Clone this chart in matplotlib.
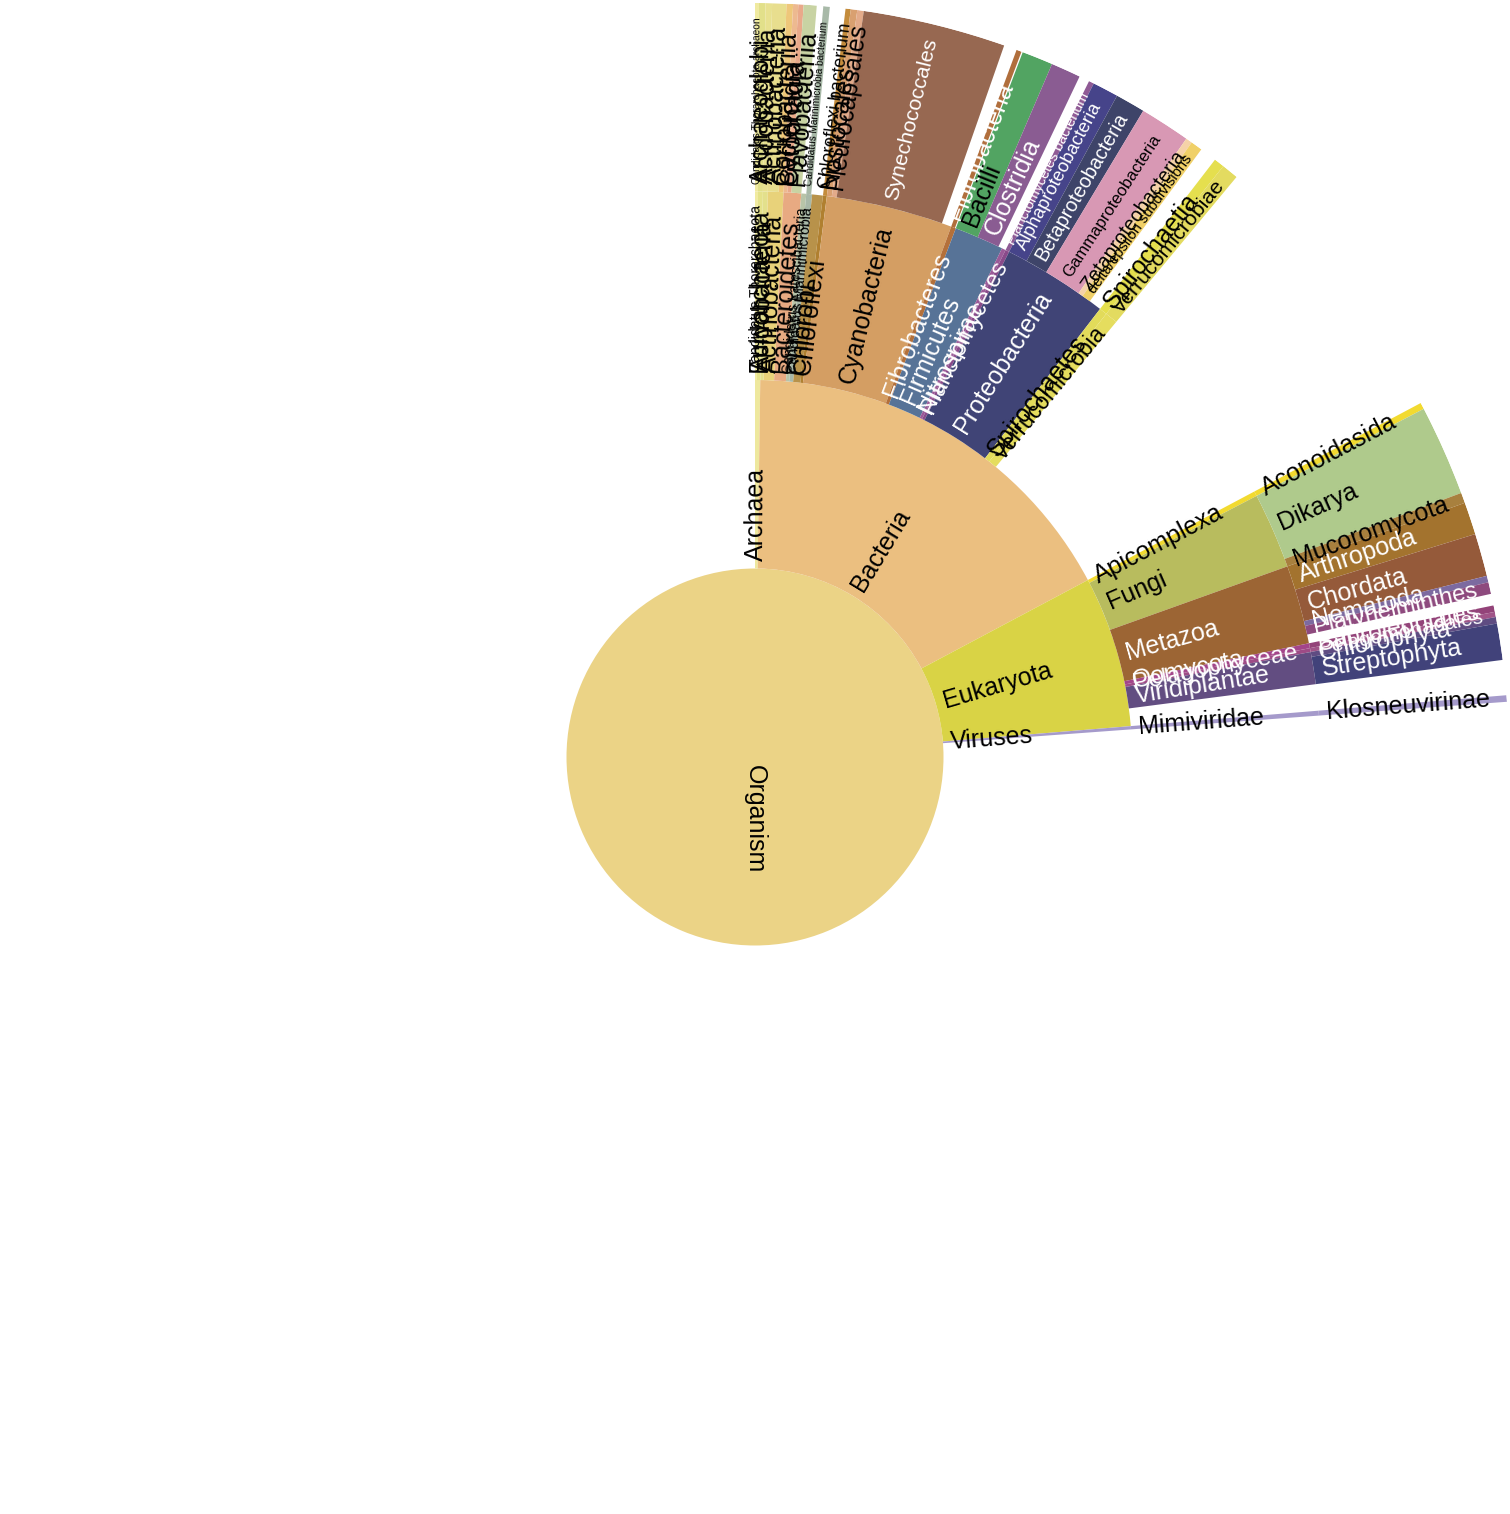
import numpy as np
import matplotlib.pyplot as plt
from matplotlib.font_manager import FontProperties
from matplotlib.textpath import TextPath

plt.rcParams['font.family'] = ['Liberation Sans', 'DejaVu Sans']

# counts, the whole circle (Organism) = 3600
root_name = 'Organism'
root_total = 3600
root_color = '#EBD386'

lvl1_names = ['Archaea', 'Bacteria', 'Eukaryota', 'Viruses']
lvl1_values = [8, 612, 233, 5]
lvl1_colors = ['#EEE89E', '#EBBF80', '#D9D345', '#A59ACB']

lvl2_names = [
    'Candidatus Thorarchaeota', 'Euryarchaeota',
    'Acidobacteria', 'Actinobacteria', 'Bacteroidetes', 'Candidatus Latescibacteria',
    'Candidatus Marinimicrobia', 'Chlorobi', 'Chloroflexi', 'Cyanobacteria',
    'Fibrobacteres', 'Firmicutes', 'Nitrospirae', 'Planctomycetes', 'Proteobacteria',
    'Spirochaetes', 'Verrucomicrobia',
    'Apicomplexa', 'Fungi', 'Metazoa', 'Oomycota', 'Pelagophyceae', 'Viridiplantae',
    'Mimiviridae',
]
lvl2_parents = (['Archaea'] * 2 + ['Bacteria'] * 15 + ['Eukaryota'] * 6 + ['Viruses'])
lvl2_values = [3, 5,
               5, 16, 18, 5, 6, 11, 4, 130, 5, 51, 4, 4, 109, 8, 13,
               5, 78, 81, 5, 4, 33,
               5]
lvl2_colors = ['#F1EBA0', '#E5E28A',
               '#E3E08C', '#E8D27A', '#E8AA82', '#B8C4A8', '#A8B8A8', '#B8924A',
               '#B08030', '#D49E63', '#B4703A', '#577397', '#9B5A98', '#8A4A8A',
               '#404476', '#E2DB5A', '#E5DD5E',
               '#F2DA30', '#B8BC5E', '#9C6534', '#A3458A', '#9E4B86', '#624D81',
               '#A59ACB']

lvl3_names = [
    'Candidatus Thorarchaeota archaeon', 'Archaeoglobi', 'Acidobacteriia',
    'Actinobacteria', 'Coriobacteriia', 'Bacteroidia', 'Cytophagia', 'Flavobacteriia',
    'Candidatus Marinimicrobia bacterium', 'Chloroflexi bacterium',
    'Nostocales', 'Pleurocapsales', 'Synechococcales', 'Fibrobacteria',
    'Bacilli', 'Clostridia', 'Planctomycetes bacterium',
    'Alphaproteobacteria', 'Betaproteobacteria', 'Gammaproteobacteria',
    'Zetaproteobacteria', 'delta/epsilon subdivisions', 'Spirochaetia', 'Verrucomicrobiae',
    'Aconoidasida', 'Dikarya', 'Mucoromycota', 'Arthropoda', 'Chordata', 'Nematoda',
    'Platyhelminthes', 'Saprolegniales', 'Pelagomonadales', 'Chlorophyta', 'Streptophyta',
    'Klosneuvirinae',
]
lvl3_parents = [
    'Candidatus Thorarchaeota', 'Euryarchaeota', 'Acidobacteria',
    'Actinobacteria', 'Actinobacteria', 'Bacteroidetes', 'Bacteroidetes', 'Bacteroidetes',
    'Candidatus Marinimicrobia', 'Chloroflexi',
    'Cyanobacteria', 'Cyanobacteria', 'Cyanobacteria', 'Fibrobacteres',
    'Firmicutes', 'Firmicutes', 'Planctomycetes',
    'Proteobacteria', 'Proteobacteria', 'Proteobacteria',
    'Proteobacteria', 'Proteobacteria', 'Spirochaetes', 'Verrucomicrobia',
    'Apicomplexa', 'Fungi', 'Fungi', 'Metazoa', 'Metazoa', 'Metazoa',
    'Metazoa', 'Oomycota', 'Pelagophyceae', 'Viridiplantae', 'Viridiplantae',
    'Mimiviridae',
]
lvl3_values = [3, 5, 5, 11, 5, 4, 4, 10, 5, 4, 5, 5, 110, 4, 24, 23, 4,
               20, 23, 39, 5, 9, 8, 13,
               5, 70, 8, 25, 33, 5, 9, 5, 4, 5, 28,
               5]
lvl3_colors = ['#F0EAA0', '#E2E08A', '#E8E190', '#E8DE8E', '#EEC77A', '#EDB990',
               '#E9A98A', '#C8D3A3', '#A8B9A8', '#C48C3C', '#D9A070', '#E3AB8A',
               '#976851', '#B06E3C', '#52A462', '#8A5C92', '#8F5A95',
               '#46448A', '#3E4469', '#D898B4', '#F5D2A8', '#F0D068', '#E5DF4E', '#E3DB60',
               '#F2DA30', '#AFCA8C', '#A8803E', '#A3732E', '#955A3A', '#7C6AA0',
               '#8E4A7E', '#934379', '#A05488', '#5F4C82', '#41427A',
               '#A59ACB']


def layout(names, parents, values, parent_start):
    cursor = dict(parent_start)
    starts = []
    for p, v in zip(parents, values):
        starts.append(cursor[p])
        cursor[p] += v
    return starts


lvl1_starts = layout(lvl1_names, [root_name] * 4, lvl1_values, {root_name: 0})
lvl2_starts = layout(lvl2_names, lvl2_parents, lvl2_values, dict(zip(lvl1_names, lvl1_starts)))
lvl3_starts = layout(lvl3_names, lvl3_parents, lvl3_values, dict(zip(lvl2_names, lvl2_starts)))

W, H, DPI = 1510, 1514, 100
fig = plt.figure(figsize=(W / DPI, H / DPI), dpi=DPI)
side = 1508
ax = fig.add_axes([(755 - side / 2) / W, (H - 757 - side / 2) / H, side / W, side / H],
                  projection='polar')
ax.set_theta_zero_location('N')
ax.set_theta_direction(-1)
ax.set_ylim(0, 4)
ax.set_axis_off()

fp = FontProperties(family='Liberation Sans')
base_fs = 18
max_len = 165  # px along the radius
pad = 0.042


def text_color(c):
    r, g, b = [int(c[i:i + 2], 16) for i in (1, 3, 5)]
    return 'black' if 0.299 * r + 0.587 * g + 0.114 * b > 128 else 'white'


def put_label(theta_deg, r0, s, fill):
    w = TextPath((0, 0), s, size=base_fs, prop=fp).get_extents().width * DPI / 72
    fs = base_fs if w <= max_len else base_fs * max_len / w
    ax.text(np.radians(theta_deg), r0 + pad, s, rotation=90 - theta_deg,
            rotation_mode='anchor', ha='left', va='center', fontsize=fs,
            color=text_color(fill))


to_deg = 360.0 / root_total

ax.bar(0, 1, width=2 * np.pi, bottom=0, color=root_color, linewidth=0)

rings = [
    (lvl1_names, lvl1_starts, lvl1_values, lvl1_colors),
    (lvl2_names, lvl2_starts, lvl2_values, lvl2_colors),
    (lvl3_names, lvl3_starts, lvl3_values, lvl3_colors),
]

for ring, (names, starts, values, colors) in enumerate(rings, start=1):
    th0 = np.radians(np.array(starts) * to_deg)
    dth = np.radians(np.array(values) * to_deg)
    ax.bar(th0, 1, width=dth, bottom=ring, align='edge', color=colors, linewidth=0)

put_label(180, 0.0, root_name, root_color)
for ring, (names, starts, values, colors) in enumerate(rings, start=1):
    for n, s, v, c in zip(names, starts, values, colors):
        put_label((s + v / 2) * to_deg, ring, n, c)

fig.savefig('out.png', dpi=DPI)
